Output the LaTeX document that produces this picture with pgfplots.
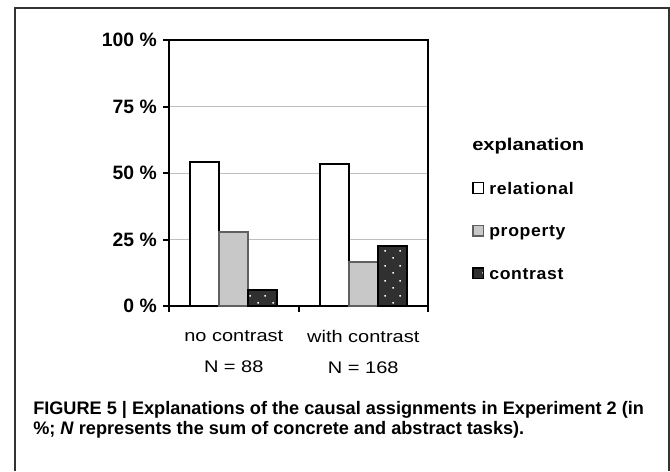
\documentclass[border=0pt]{standalone}
\usepackage{fontspec}
\setmainfont{Liberation Sans}
\newfontfamily\lblfont[FakeStretch=1.19]{Liberation Sans}
\newfontfamily\legfont[FakeStretch=1.05,LetterSpace=4]{Liberation Sans}
\newfontfamily\titfont[FakeStretch=1.18]{Liberation Sans}
\usepackage{pgfplots}
\pgfplotsset{compat=1.18}
\usetikzlibrary{patterns.meta}
\tikzdeclarepattern{
  name=sdots,
  type=uncolored,
  bottom left={(0pt,0pt)},
  top right={(11.25pt,11.25pt)},
  tile size={(11.25pt,11.25pt)},
  code={
    \pgfpathrectangle{\pgfpoint{1.8pt}{1.8pt}}{\pgfpoint{1.2pt}{1.2pt}}
    \pgfpathrectangle{\pgfpoint{7.4pt}{7.4pt}}{\pgfpoint{1.2pt}{1.2pt}}
    \pgfusepath{fill}
  }
}
\definecolor{propfill}{HTML}{C8C8C8}
\definecolor{propedge}{HTML}{606060}
\definecolor{confill}{HTML}{303030}
\begin{document}
\begin{tikzpicture}[x=0.75pt,y=-0.75pt]
\useasboundingbox (0,0) rectangle (670,471);
\draw[line width=1.1pt, black!80] (15,471) -- (15,8) -- (669,8) -- (669,471);
\begin{axis}[
  at={(126.75pt,-229.5pt)}, anchor=south west,
  scale only axis, width=194.25pt, height=199.5pt,
  ybar=0pt, bar width=21.75pt,
  xmin=-0.5, xmax=1.5, ymin=0, ymax=100,
  xtick={-0.5,0.5,1.5}, xticklabels={},
  extra x ticks={0,1},
  extra x tick labels={{no contrast\\N = 88},{with contrast\\N = 168}},
  extra x tick style={major tick length=0pt, grid=none,
     tick label style={align=center, inner sep=0pt, anchor=north, yshift=-18pt,
       font=\lblfont\fontsize{12.6}{23.25}\selectfont}},
  ytick={0,25,50,75,100},
  yticklabels={0 \%,25 \%,50 \%,75 \%,100 \%},
  yticklabel style={font=\fontsize{14.5}{16}\selectfont\bfseries, inner sep=0pt, xshift=-4.5pt},
  tick align=outside, tick pos=left,
  major tick length=4.5pt,
  tick style={line width=1.5pt, black},
  axis line style={line width=1.5pt, black},
  ymajorgrids, grid style={line width=0.75pt, black!25},
  legend style={at={(1.1699,0.467)}, anchor=north west, draw=none, fill=none,
    inner sep=0pt, row sep=23pt, column sep=3.75pt,
    nodes={inner sep=0pt, text height=8.5pt, text depth=0pt, anchor=base west,
      font=\legfont\fontsize{12.6}{14}\selectfont\bfseries}},
  legend cell align=left,
  legend image code/.code={\draw[#1, line width=1pt] (0pt,0.5pt) rectangle (8pt,8.5pt);},
]
\addplot[fill=white, draw=black, line width=1.5pt] coordinates {(0,54.1) (1,53.4)};
\addlegendentry{relational}
\addplot[fill=propfill, draw=propedge, line width=1.5pt] coordinates {(0,27.8) (1,16.5)};
\addlegendentry{property}
\addplot[fill=confill, draw=black, line width=1.5pt, postaction={pattern=sdots, pattern color=white}] coordinates {(0,6.0) (1,22.6)};
\addlegendentry{contrast}
\end{axis}
\node[anchor=base west, inner sep=0pt] at (472,150) {\titfont\fontsize{12.8}{14}\selectfont\bfseries explanation};
\node[anchor=base west, inner sep=0pt, align=left, font=\fontsize{13.6}{15}\selectfont\bfseries] at (33,434)
  {FIGURE 5 | Explanations of the causal assignments in Experiment 2 (in\\\%; \textit{N} represents the sum of concrete and abstract tasks).};
\end{tikzpicture}
\end{document}
